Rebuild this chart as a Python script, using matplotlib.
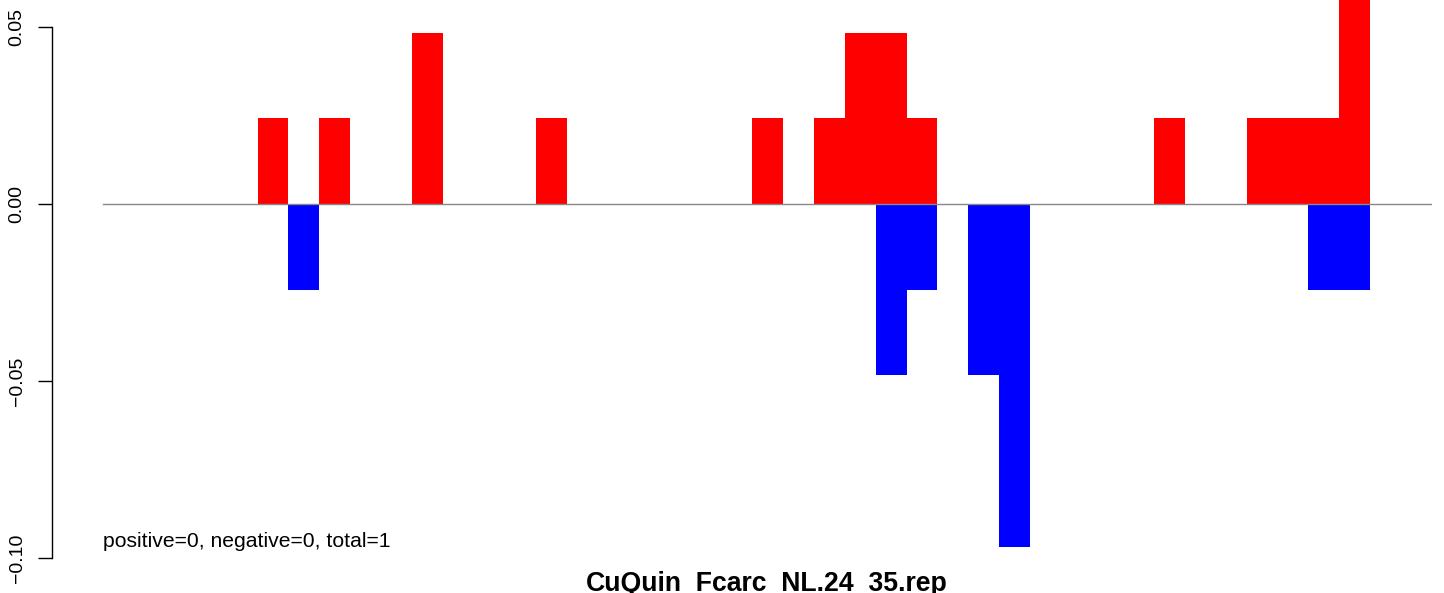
import numpy as np
import matplotlib
matplotlib.use("Agg")
import matplotlib.pyplot as plt

plt.rcParams['font.family'] = ['Liberation Sans', 'DejaVu Sans']

# 43 bins along the sequence; counts scaled to fractions
n_bins = 43
pos_bins = [5, 7, 10, 14, 21, 23, 24, 25, 26, 34, 37, 38, 39, 40]
pos_vals = [0.0242, 0.0242, 0.0484, 0.0242, 0.0242, 0.0242, 0.0484, 0.0484,
            0.0242, 0.0242, 0.0242, 0.0242, 0.0242, 0.0726]
neg_bins = [6, 25, 26, 28, 29, 39, 40]
neg_vals = [-0.0242, -0.0484, -0.0242, -0.0484, -0.0968, -0.0242, -0.0242]

yticks = [-0.10, -0.05, 0.00, 0.05]
ytick_labels = ['\u22120.10', '\u22120.05', '0.00', '0.05']
title = 'CuQuin_Fcarc_NL.24_35.rep'
note = 'positive=0, negative=0, total=1'

W, H = 1444, 593
fig = plt.figure(figsize=(W / 100, H / 100), dpi=100)
left, right, top, bottom = 52, 1432, 27, 558
ax = fig.add_axes([left / W, (H - bottom) / H, (right - left) / W, (bottom - top) / H])
ax.set_ylim(-0.10, 0.05)
px_per_bin = (1370 - 103) / 41
ax.set_xlim(-(103 - left) / px_per_bin, n_bins)

ax.axhline(0, color='#888888', lw=1.0, xmin=(103 - left) / (right - left), xmax=1)
ax.bar(np.array(pos_bins) + 0.5, pos_vals, width=1, color='#ff0000', linewidth=0, clip_on=False)
ax.bar(np.array(neg_bins) + 0.5, neg_vals, width=1, color='#0000ff', linewidth=0, clip_on=False)

for s in ['top', 'right', 'bottom']:
    ax.spines[s].set_visible(False)
ax.spines['left'].set_bounds(-0.10, 0.05)
ax.spines['left'].set_linewidth(1.0)
ax.set_xticks([])
ax.set_yticks(yticks)
ax.set_yticklabels(ytick_labels, rotation=90, va='center', fontsize=14)
ax.tick_params(axis='y', length=10, width=1.0, pad=9)

ax.text(0, -0.0969, note, fontsize=15.2, ha='left', va='baseline')
fig.text(767 / W, (H - 591) / H, title, fontsize=19.2, fontweight='bold',
         ha='center', va='baseline')

fig.savefig('out.png', dpi=100)
